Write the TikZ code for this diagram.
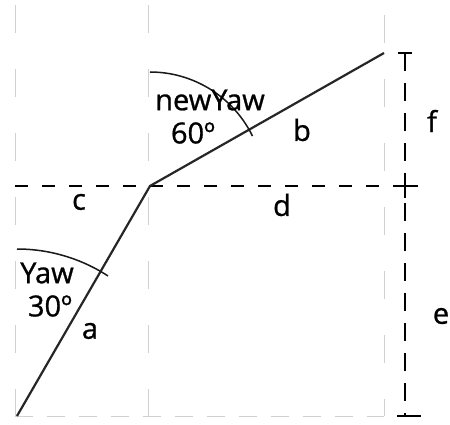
\documentclass[tikz,border=0pt]{standalone}
\usepackage{fontspec}
\setmainfont{Open Sans}[FakeBold=0.9]
\begin{document}
\begin{tikzpicture}[x=1pt,y=1pt,
  lbl/.style={inner sep=0pt, font=\fontsize{29}{34}\selectfont},
  guide/.style={draw=black!18, line width=0.9pt, dash pattern=on 28pt off 36pt},
  guideh/.style={draw=black!18, line width=0.9pt, dash pattern=on 18pt off 14pt},
  dimh/.style={line width=1.8pt, dash pattern=on 13pt off 14pt},
  dimv/.style={line width=1.8pt, dash pattern=on 18pt off 12pt},
  tick/.style={line width=1.6pt},
  arm/.style={line width=2.2pt, draw=black!85},
  angarc/.style={line width=1.5pt, draw=black!90}]
\useasboundingbox (0,0) rectangle (450,424);
% key points
\coordinate (A) at (17,8);
\coordinate (J) at (150,238);
\coordinate (E) at (384,371);
% light guides
\coordinate (G1t) at (15,419); \coordinate (G1b) at (15,8);
\coordinate (G2t) at (148,419); \coordinate (G2b) at (148,0);
\coordinate (G3t) at (384,409); \coordinate (G3b) at (384,8);
\draw[guide] (G1t) -- (G1b);
\draw[guide] (G2t) -- (G2b);
\draw[guide] (G3t) -- (G3b);
\draw[guideh] (G1b) -- (G3b);
% black dashed dimension lines
\coordinate (H1) at (15,238); \coordinate (H2) at (399,238);
\draw[dimh] (H1) -- (H2);
\coordinate (Vt) at (405,371); \coordinate (Vb) at (405,8);
\draw[dimv] (Vt) -- (Vb);
\coordinate (Tt1) at (398,371); \coordinate (Tt2) at (412,371);
\coordinate (Tb1) at (397,8); \coordinate (Tb2) at (421,8);
\coordinate (Tm1) at (399,238); \coordinate (Tm2) at (418,238);
\coordinate (Tv1) at (405,246); \coordinate (Tv2) at (405,226);
\draw[tick] (Tt1) -- (Tt2);
\draw[tick] (Tb1) -- (Tb2);
\draw[tick] (Tm1) -- (Tm2);
\draw[tick] (Tv1) -- (Tv2);
% arms
\draw[arm] (A) -- (J) -- (E);
% angle arcs
\draw[angarc] (A) ++(90:167) arc[start angle=90, end angle=57, radius=167];
\draw[angarc] (J) ++(90:114) arc[start angle=90, end angle=26, radius=114];
% labels
\node[lbl] (newyaw) at (210,324) {newYaw};
\node[lbl] (sixty) at (193,291) {60º};
\node[lbl] (yaw) at (47,151) {Yaw};
\node[lbl] (thirty) at (50,118) {30º};
\node[lbl] (la) at (90,93) {a};
\node[lbl] (lb) at (302,294) {b};
\node[lbl] (lc) at (79,222) {c};
\node[lbl] (ld) at (282,219) {d};
\node[lbl] (lf) at (432,303) {f};
\node[lbl] (le) at (441,108) {e};
\end{tikzpicture}
\end{document}
